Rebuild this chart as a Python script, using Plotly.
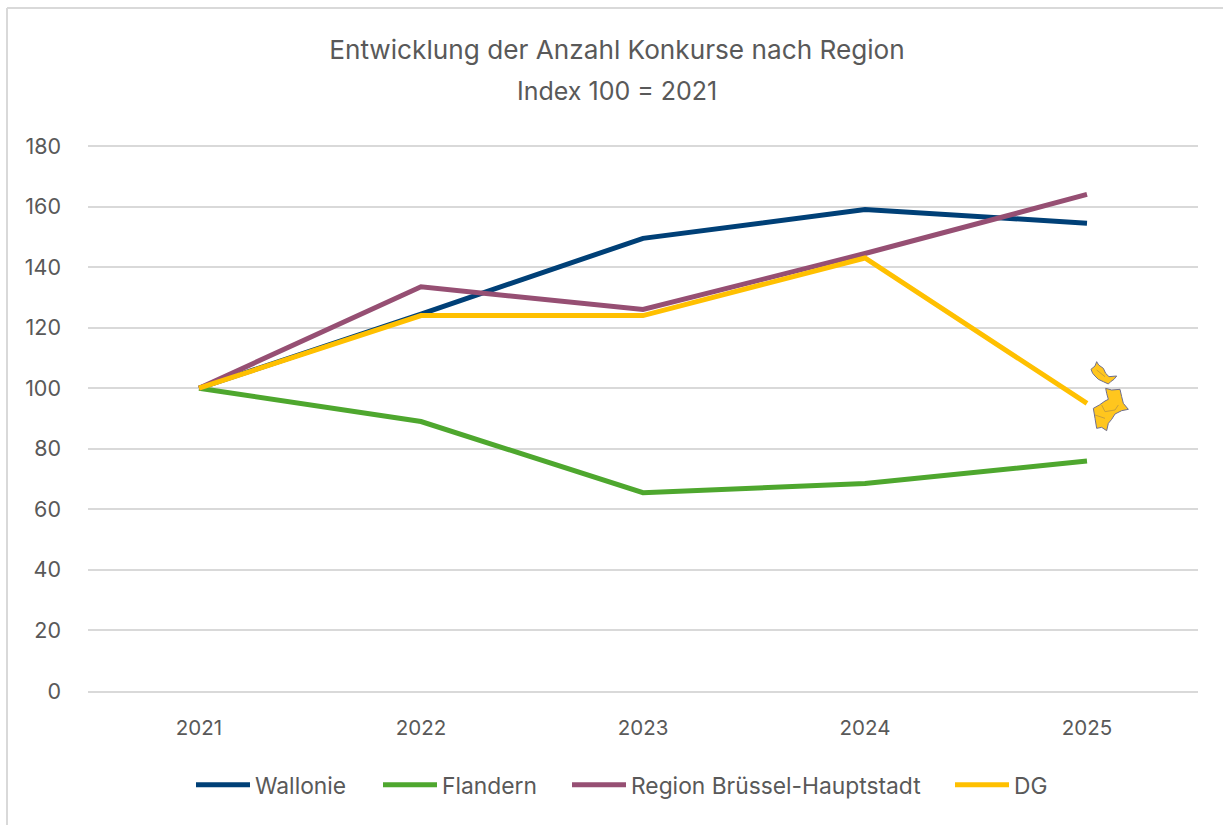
import plotly.graph_objects as go

W, H = 1223, 825
L, R, T, B = 88, 1198, 142, 691
Y_MAX_GRID = 180
PX_PER_180 = 545
years = ["2021", "2022", "2023", "2024", "2025"]
wallonie = [100, 124.5, 149.5, 159, 154.5]
flandern = [100, 89, 65.5, 68.5, 76]
bruessel = [100, 133.5, 126, 144.5, 164]
dg = [100, 124, 124, 143, 95]
series_names = ["Wallonie", "Flandern", "Region Brüssel-Hauptstadt", "DG"]
series_colors = ["#004077", "#4EA72E", "#964F73", "#FFC000"]
legend_starts = [197, 384, 573, 956]
title_line1 = "Entwicklung der Anzahl Konkurse nach Region"
title_line2 = "Index 100 = 2021"
FONT = "Inter"
TEXT = "#595959"
GRID = "#D9D9D9"

def px(x): return (x - L) / (R - L)
def py(y): return (B - y) / (B - T)
def pts(points):
    return " L ".join(f"{px(1040 + a / 3):.5f},{py(340 + b / 3):.5f}" for a, b in points)
def poly(points):
    return "M " + pts(points) + " Z"
def open_path(points):
    return "M " + pts(points)

fig = go.Figure()
legend_ids = ["legend", "legend2", "legend3", "legend4"]
for name, vals, col, lid in zip(series_names, [wallonie, flandern, bruessel, dg], series_colors, legend_ids):
    fig.add_trace(go.Scatter(x=years, y=vals, name=name, mode="lines", legend=lid,
                             line=dict(color=col, width=5)))

icon_top = [(153,88),(165,78),(170,65),(176,75),(190,85),(197,100),(207,110),(230,108),(222,118),
            (212,125),(205,132),(190,125),(175,118),(165,108),(158,100)]
icon_low = [(197,145),(215,150),(240,148),(245,170),(250,190),(265,208),(245,212),(225,222),(215,238),
            (205,250),(200,272),(185,262),(170,265),(165,235),(160,205),(178,195),(195,183),(205,178),(200,160)]
icon_inner = [[(185,195),(195,215),(225,210),(235,195)], [(165,225),(195,235)], [(170,90),(195,110)]]

ICON_EDGE = dict(color="#6F6F8F", width=1)
shapes = [
    dict(type="line", xref="paper", yref="paper", x0=px(7), x1=px(7), y0=py(H), y1=py(8),
         line=dict(color=GRID, width=2), layer="below"),
    dict(type="line", xref="paper", yref="paper", x0=px(7), x1=px(W), y0=py(8), y1=py(8),
         line=dict(color=GRID, width=2), layer="below"),
    dict(type="rect", xref="paper", yref="paper", x0=px(1088), x1=px(1131), y0=py(432), y1=py(360),
         fillcolor="white", line=dict(width=0), layer="below"),
    dict(type="path", xref="paper", yref="paper", path=poly(icon_top), fillcolor="#FFC61E",
         line=ICON_EDGE, layer="above"),
    dict(type="path", xref="paper", yref="paper", path=poly(icon_low), fillcolor="#FFC61E",
         line=ICON_EDGE, layer="above"),
]
for seg in icon_inner:
    shapes.append(dict(type="path", xref="paper", yref="paper", path=open_path(seg),
                       line=dict(color="#C9A03A", width=1), layer="above"))

layout_legends = {}
for lid, start in zip(legend_ids, legend_starts):
    layout_legends[lid] = dict(orientation="h", x=px(start - 6), y=py(785), yanchor="middle", xanchor="left",
                               font=dict(size=22.8), itemwidth=54, bgcolor="rgba(0,0,0,0)")

fig.update_layout(
    width=W, height=H, autosize=False,
    margin=dict(l=L, r=W - R, t=T, b=H - B, pad=0),
    paper_bgcolor="white", plot_bgcolor="white",
    showlegend=True,
    font=dict(family=FONT, color=TEXT, size=20),
    title=dict(text=title_line1, x=617 / W, xanchor="center", xref="container", y=1 - 50 / H, yanchor="middle",
               font=dict(family=FONT, size=26.2, color=TEXT)),
    annotations=[dict(text=title_line2, xref="paper", yref="paper", x=px(617), y=py(91),
                      xanchor="center", yanchor="middle", showarrow=False,
                      font=dict(family=FONT, size=25, color=TEXT))],
    xaxis=dict(type="category", range=[-0.5, 4.5], showgrid=False, ticks="", zeroline=False,
               showline=True, linecolor=GRID, linewidth=2, tickfont=dict(size=20.5), ticklabelstandoff=17),
    yaxis=dict(range=[0, Y_MAX_GRID * (B - T) / PX_PER_180], tickvals=list(range(0, 200, 20)), gridcolor=GRID,
               gridwidth=2, zeroline=False, showline=False, ticks="", tickfont=dict(size=21.5), ticklabelstandoff=26),
    shapes=shapes,
    **layout_legends,
)
fig.write_html("out.html", config=dict(displayModeBar=False),
               post_script="document.body.style.margin='0';")
